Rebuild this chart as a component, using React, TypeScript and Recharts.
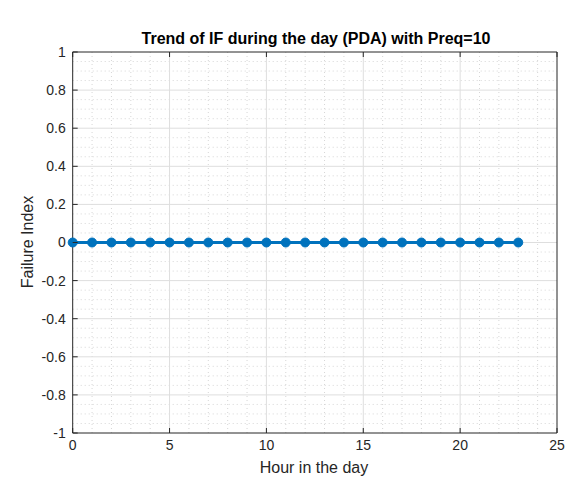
import React from "react";
import { LineChart, Line, XAxis, YAxis, ReferenceLine } from "recharts";

const hours = [0, 1, 2, 3, 4, 5, 6, 7, 8, 9, 10, 11, 12, 13, 14, 15, 16, 17, 18, 19, 20, 21, 22, 23];
const failureIndex = [0, 0, 0, 0, 0, 0, 0, 0, 0, 0, 0, 0, 0, 0, 0, 0, 0, 0, 0, 0, 0, 0, 0, 0];
const xTicks = [0, 5, 10, 15, 20, 25];
const yTicks = [-1, -0.8, -0.6, -0.4, -0.2, 0, 0.2, 0.4, 0.6, 0.8, 1];
const xMinor = [1, 2, 3, 4, 6, 7, 8, 9, 11, 12, 13, 14, 16, 17, 18, 19, 21, 22, 23, 24];
const yMinor = [
  -0.95, -0.9, -0.85, -0.75, -0.7, -0.65, -0.55, -0.5, -0.45, -0.35, -0.3, -0.25,
  -0.15, -0.1, -0.05, 0.05, 0.1, 0.15, 0.25, 0.3, 0.35, 0.45, 0.5, 0.55,
  0.65, 0.7, 0.75, 0.85, 0.9, 0.95,
];

const data = hours.map((h, i) => ({ hour: h, value: failureIndex[i] }));

const FONT = "Arial, 'Liberation Sans', Helvetica, sans-serif";
const AXIS = "#262626";
const TICK_LEN = 5;

const BottomTick = (p: any) => (
  <g>
    <line x1={p.x} y1={p.y} x2={p.x} y2={p.y - TICK_LEN} stroke={AXIS} />
    <text x={p.x} y={p.y + 7} dy="0.71em" textAnchor="middle" fill={AXIS} fontSize={14} fontFamily={FONT}>
      {String(p.payload.value)}
    </text>
  </g>
);
const LeftTick = (p: any) => (
  <g>
    <line x1={p.x} y1={p.y} x2={p.x + TICK_LEN} y2={p.y} stroke={AXIS} />
    <text x={p.x - 7} y={p.y} dy="0.355em" textAnchor="end" fill={AXIS} fontSize={14} fontFamily={FONT}>
      {String(p.payload.value)}
    </text>
  </g>
);
const TopTick = (p: any) => (
  <line x1={p.x} y1={p.y} x2={p.x} y2={p.y + TICK_LEN} stroke={AXIS} />
);
const RightTick = (p: any) => (
  <line x1={p.x} y1={p.y} x2={p.x - TICK_LEN} y2={p.y} stroke={AXIS} />
);

export default function App() {
  return (
    <div style={{ position: "absolute", left: 0, top: 0, width: 582, height: 481, background: "#fff" }}>
      <LineChart
        width={582}
        height={481}
        data={data}
        margin={{ top: 51, right: 24, bottom: 0, left: 0 }}
      >
        {xMinor.map((v) => (
          <ReferenceLine key={"xm" + v} x={v} stroke="#d6d6d6" strokeDasharray="1 3" strokeWidth={1} />
        ))}
        {yMinor.map((v) => (
          <ReferenceLine key={"ym" + v} y={v} stroke="#d6d6d6" strokeDasharray="1 3" strokeWidth={1} />
        ))}
        {xTicks.slice(1, -1).map((v) => (
          <ReferenceLine key={"xM" + v} x={v} stroke="#dedede" strokeWidth={1} />
        ))}
        {yTicks.slice(1, -1).map((v) => (
          <ReferenceLine key={"yM" + v} y={v} stroke="#dedede" strokeWidth={1} />
        ))}
        <XAxis
          dataKey="hour"
          type="number"
          domain={[0, 25]}
          ticks={xTicks}
          interval={0}
          height={48}
          tickSize={0}
          tickMargin={0}
          tick={BottomTick}
          tickLine={false}
          axisLine={{ stroke: AXIS }}
        />
        <XAxis
          xAxisId="top"
          dataKey="hour"
          type="number"
          orientation="top"
          domain={[0, 25]}
          ticks={xTicks}
          interval={0}
          height={1}
          tickSize={0}
          tickMargin={0}
          tick={TopTick}
          tickLine={false}
          axisLine={{ stroke: AXIS }}
        />
        <YAxis
          type="number"
          domain={[-1, 1]}
          ticks={yTicks}
          interval={0}
          width={72.7}
          tickSize={0}
          tickMargin={0}
          tick={LeftTick}
          tickLine={false}
          axisLine={{ stroke: AXIS }}
        />
        <YAxis
          yAxisId="right"
          orientation="right"
          type="number"
          domain={[-1, 1]}
          ticks={yTicks}
          interval={0}
          width={1}
          tickSize={0}
          tickMargin={0}
          tick={RightTick}
          tickLine={false}
          axisLine={{ stroke: AXIS }}
        />
        <Line
          dataKey="value"
          type="linear"
          stroke="#0072BD"
          strokeWidth={3}
          dot={{ r: 4.5, fill: "#0072BD", stroke: "#0072BD", strokeWidth: 1 }}
          isAnimationActive={false}
        />
        <text x={316} y={43.5} textAnchor="middle" style={{ fontSize: 16, fontWeight: "bold", fontFamily: FONT, fill: "#000" }}>
          Trend of IF during the day (PDA) with Preq=10
        </text>
        <text x={314} y={472.5} textAnchor="middle" style={{ fontSize: 16, fontFamily: FONT, fill: AXIS }}>
          Hour in the day
        </text>
        <text
          x={27}
          y={242}
          textAnchor="middle"
          dominantBaseline="central"
          transform="rotate(-90 27 242)"
          style={{ fontSize: 16, fontFamily: FONT, fill: AXIS }}
        >
          Failure Index
        </text>
      </LineChart>
    </div>
  );
}
